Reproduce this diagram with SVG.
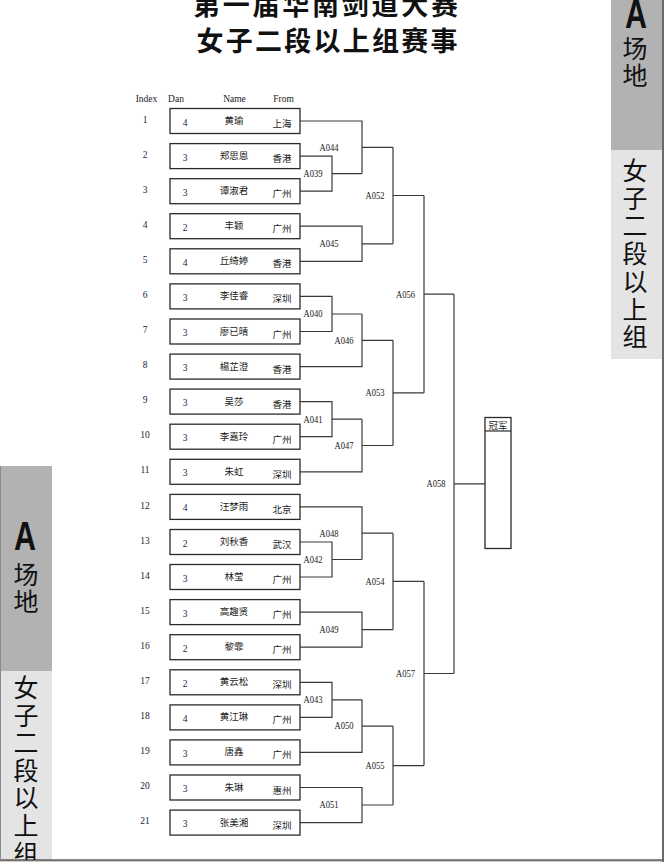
<svg xmlns="http://www.w3.org/2000/svg" width="664" height="862" viewBox="0 0 664 862">
<style>
.bg{fill:#ffffff}
.box{fill:#ffffff;stroke:#2a2a2a;stroke-width:1.3}
.con{fill:none;stroke:#3a3a3a;stroke-width:1.2}
.hdr{font-family:"Liberation Serif",serif;font-size:9.5px;fill:#1a1a1a;text-anchor:middle}
.idx{font-family:"Liberation Serif",serif;font-size:9.5px;fill:#1a1a3a;text-anchor:middle}
.dan{font-family:"Liberation Serif",serif;font-size:9.5px;fill:#1a1a4a;text-anchor:middle}
.nm{font-family:"Noto Sans CJK SC","Noto Sans",sans-serif;font-size:9.5px;fill:#1a1a1a;text-anchor:middle}
.fr{font-family:"Noto Sans CJK SC","Noto Sans",sans-serif;font-size:9.5px;fill:#1a1a1a;text-anchor:middle}
.ml{font-family:"Liberation Serif",serif;font-size:9.5px;fill:#1a1a1a;text-anchor:middle}
.ttl{font-family:"Noto Sans CJK SC","Noto Sans",sans-serif;font-size:27px;font-weight:700;fill:#111}
.band{font-family:"Noto Sans CJK SC","Noto Sans",sans-serif;font-size:25px;fill:#111;text-anchor:middle}
.bandA{font-family:"Liberation Sans","Noto Sans",sans-serif;font-size:40px;font-weight:700;fill:#111;text-anchor:middle}
.dark{fill:#b2b2b2}
.light{fill:#e4e4e4}
</style>
<rect class="bg" x="0" y="0" width="664" height="862"/>

<g id="title">
<text class="ttl" x="193" y="15" letter-spacing="2.75">第一届华南剑道大赛</text>
<text class="ttl" x="196.5" y="51" letter-spacing="2.25">女子二段以上组赛事</text>
</g>

<g id="band-right">
<rect class="dark" x="611" y="0" width="51" height="150"/>
<rect class="light" x="611" y="150" width="51" height="209"/>
<text class="bandA" x="636" y="28" textLength="22" lengthAdjust="spacingAndGlyphs">A</text>
<text class="band" x="635" y="58">场</text>
<text class="band" x="635" y="85">地</text>
<text class="band" x="635" y="180">女</text>
<text class="band" x="635" y="207.7">子</text>
<text class="band" x="635" y="235.4">二</text>
<text class="band" x="635" y="263.1">段</text>
<text class="band" x="635" y="290.8">以</text>
<text class="band" x="635" y="318.5">上</text>
<text class="band" x="635" y="346.2">组</text>
</g>

<g id="band-left">
<rect class="dark" x="0" y="466" width="52" height="205"/>
<rect class="light" x="0" y="671" width="52" height="189"/>
<text class="bandA" x="25" y="550" textLength="22" lengthAdjust="spacingAndGlyphs">A</text>
<text class="band" x="26" y="584">场</text>
<text class="band" x="26" y="611">地</text>
<text class="band" x="26" y="697">女</text>
<text class="band" x="26" y="724.6">子</text>
<text class="band" x="26" y="752.2">二</text>
<text class="band" x="26" y="779.8">段</text>
<text class="band" x="26" y="807.4">以</text>
<text class="band" x="26" y="835">上</text>
<text class="band" x="26" y="862.6">组</text>
</g>

<g id="page-frame">
<rect x="0" y="860" width="664" height="2" fill="#d2cbc3"/>
<line x1="0" y1="860" x2="664" y2="860" stroke="#1a1a1a" stroke-width="1.2"/>
<line x1="0.5" y1="466" x2="0.5" y2="860" stroke="#8a8a8a" stroke-width="1"/>
<line x1="663" y1="0" x2="663" y2="862" stroke="#6a6a6a" stroke-width="2"/>
</g>

<g id="header">
<text class="hdr" x="146.5" y="101.5">Index</text>
<text class="hdr" x="176" y="101.5">Dan</text>
<text class="hdr" x="234.5" y="101.5">Name</text>
<text class="hdr" x="283.5" y="101.5">From</text>
</g>

<g id="connectors">
<g id="m-A039"><path class="con" d="M300 156.1H332V191.2H300M332 173.6H362"/><text class="ml" x="313" y="177" textLength="19" lengthAdjust="spacingAndGlyphs">A039</text></g>
<g id="m-A044"><path class="con" d="M300 121H362V173.6M362 147.3H393"/><text class="ml" x="329" y="150.6" textLength="19" lengthAdjust="spacingAndGlyphs">A044</text></g>
<g id="m-A045"><path class="con" d="M300 226.2H362V261.3H300M362 243.8H393"/><text class="ml" x="329" y="247.1" textLength="19" lengthAdjust="spacingAndGlyphs">A045</text></g>
<g id="m-A052"><path class="con" d="M393 147.3V243.8M393 195.5H424"/><text class="ml" x="375" y="198.8" textLength="19" lengthAdjust="spacingAndGlyphs">A052</text></g>
<g id="m-A040"><path class="con" d="M300 296.4H332V331.5H300M332 314H362"/><text class="ml" x="313" y="317.3" textLength="19" lengthAdjust="spacingAndGlyphs">A040</text></g>
<g id="m-A046"><path class="con" d="M362 314V366.6H300M362 340.3H393"/><text class="ml" x="344" y="343.6" textLength="19" lengthAdjust="spacingAndGlyphs">A046</text></g>
<g id="m-A041"><path class="con" d="M300 401.6H332V436.7H300M332 419.2H362"/><text class="ml" x="313" y="422.5" textLength="19" lengthAdjust="spacingAndGlyphs">A041</text></g>
<g id="m-A047"><path class="con" d="M362 419.2V471.8H300M362 445.5H393"/><text class="ml" x="344" y="448.8" textLength="19" lengthAdjust="spacingAndGlyphs">A047</text></g>
<g id="m-A053"><path class="con" d="M393 340.3V445.5M393 392.9H424"/><text class="ml" x="375" y="396.2" textLength="19" lengthAdjust="spacingAndGlyphs">A053</text></g>
<g id="m-A056"><path class="con" d="M424 195.5V392.9M424 294.2H454"/><text class="ml" x="405.5" y="297.5" textLength="19" lengthAdjust="spacingAndGlyphs">A056</text></g>
<g id="m-A042"><path class="con" d="M300 542H332V577H300M332 559.5H362"/><text class="ml" x="313" y="562.8" textLength="19" lengthAdjust="spacingAndGlyphs">A042</text></g>
<g id="m-A048"><path class="con" d="M300 506.9H362V559.5M362 533.2H393"/><text class="ml" x="329" y="536.5" textLength="19" lengthAdjust="spacingAndGlyphs">A048</text></g>
<g id="m-A049"><path class="con" d="M300 612.1H362V647.2H300M362 629.7H393"/><text class="ml" x="329" y="633" textLength="19" lengthAdjust="spacingAndGlyphs">A049</text></g>
<g id="m-A054"><path class="con" d="M393 533.2V629.7M393 581.4H424"/><text class="ml" x="375" y="584.7" textLength="19" lengthAdjust="spacingAndGlyphs">A054</text></g>
<g id="m-A043"><path class="con" d="M300 682.3H332V717.4H300M332 699.8H362"/><text class="ml" x="313" y="703.1" textLength="19" lengthAdjust="spacingAndGlyphs">A043</text></g>
<g id="m-A050"><path class="con" d="M362 699.8V752.4H300M362 726.1H393"/><text class="ml" x="344" y="729.4" textLength="19" lengthAdjust="spacingAndGlyphs">A050</text></g>
<g id="m-A051"><path class="con" d="M300 787.5H362V822.6H300M362 805H393"/><text class="ml" x="329" y="808.3" textLength="19" lengthAdjust="spacingAndGlyphs">A051</text></g>
<g id="m-A055"><path class="con" d="M393 726.1V805M393 765.6H424"/><text class="ml" x="375" y="768.9" textLength="19" lengthAdjust="spacingAndGlyphs">A055</text></g>
<g id="m-A057"><path class="con" d="M424 581.4V765.6M424 673.5H454"/><text class="ml" x="405.5" y="676.8" textLength="19" lengthAdjust="spacingAndGlyphs">A057</text></g>
<g id="m-A058"><path class="con" d="M454 294.2V673.5M454 483.8H485"/><text class="ml" x="436" y="487.1" textLength="19" lengthAdjust="spacingAndGlyphs">A058</text></g>
</g>

<g id="champion">
<rect class="box" x="485" y="417.5" width="26" height="131"/>
<line x1="485" y1="431" x2="511" y2="431" stroke="#2a2a2a" stroke-width="1.2"/>
<text class="nm" x="498" y="428.5">冠军</text>
</g>

<g id="p1"><text class="idx" x="145" y="122.6">1</text><rect class="box" x="170" y="108.5" width="130" height="25"/><text class="dan" x="185" y="125.5">4</text><text class="nm" x="234" y="124">黄瑜</text><text class="fr" x="282" y="127">上海</text></g>
<g id="p2"><text class="idx" x="145" y="157.7">2</text><rect class="box" x="170" y="143.6" width="130" height="25"/><text class="dan" x="185" y="160.6">3</text><text class="nm" x="234" y="159.1">郑思恩</text><text class="fr" x="282" y="162.1">香港</text></g>
<g id="p3"><text class="idx" x="145" y="192.8">3</text><rect class="box" x="170" y="178.7" width="130" height="25"/><text class="dan" x="185" y="195.7">3</text><text class="nm" x="234" y="194.2">谭淑君</text><text class="fr" x="282" y="197.2">广州</text></g>
<g id="p4"><text class="idx" x="145" y="227.8">4</text><rect class="box" x="170" y="213.7" width="130" height="25"/><text class="dan" x="185" y="230.7">2</text><text class="nm" x="234" y="229.2">丰颖</text><text class="fr" x="282" y="232.2">广州</text></g>
<g id="p5"><text class="idx" x="145" y="262.9">5</text><rect class="box" x="170" y="248.8" width="130" height="25"/><text class="dan" x="185" y="265.8">4</text><text class="nm" x="234" y="264.3">丘绮婷</text><text class="fr" x="282" y="267.3">香港</text></g>
<g id="p6"><text class="idx" x="145" y="298">6</text><rect class="box" x="170" y="283.9" width="130" height="25"/><text class="dan" x="185" y="300.9">3</text><text class="nm" x="234" y="299.4">李佳睿</text><text class="fr" x="282" y="302.4">深圳</text></g>
<g id="p7"><text class="idx" x="145" y="333.1">7</text><rect class="box" x="170" y="319" width="130" height="25"/><text class="dan" x="185" y="336">3</text><text class="nm" x="234" y="334.5">廖已晴</text><text class="fr" x="282" y="337.5">广州</text></g>
<g id="p8"><text class="idx" x="145" y="368.2">8</text><rect class="box" x="170" y="354.1" width="130" height="25"/><text class="dan" x="185" y="371.1">3</text><text class="nm" x="234" y="369.6">楊芷澄</text><text class="fr" x="282" y="372.6">香港</text></g>
<g id="p9"><text class="idx" x="145" y="403.2">9</text><rect class="box" x="170" y="389.1" width="130" height="25"/><text class="dan" x="185" y="406.1">3</text><text class="nm" x="234" y="404.6">吴莎</text><text class="fr" x="282" y="407.6">香港</text></g>
<g id="p10"><text class="idx" x="145" y="438.3">10</text><rect class="box" x="170" y="424.2" width="130" height="25"/><text class="dan" x="185" y="441.2">3</text><text class="nm" x="234" y="439.7">李嘉玲</text><text class="fr" x="282" y="442.7">广州</text></g>
<g id="p11"><text class="idx" x="145" y="473.4">11</text><rect class="box" x="170" y="459.3" width="130" height="25"/><text class="dan" x="185" y="476.3">3</text><text class="nm" x="234" y="474.8">朱虹</text><text class="fr" x="282" y="477.8">深圳</text></g>
<g id="p12"><text class="idx" x="145" y="508.5">12</text><rect class="box" x="170" y="494.4" width="130" height="25"/><text class="dan" x="185" y="511.4">4</text><text class="nm" x="234" y="509.9">汪梦雨</text><text class="fr" x="282" y="512.9">北京</text></g>
<g id="p13"><text class="idx" x="145" y="543.6">13</text><rect class="box" x="170" y="529.5" width="130" height="25"/><text class="dan" x="185" y="546.5">2</text><text class="nm" x="234" y="545">刘秋香</text><text class="fr" x="282" y="548">武汉</text></g>
<g id="p14"><text class="idx" x="145" y="578.6">14</text><rect class="box" x="170" y="564.5" width="130" height="25"/><text class="dan" x="185" y="581.5">3</text><text class="nm" x="234" y="580">林莹</text><text class="fr" x="282" y="583">广州</text></g>
<g id="p15"><text class="idx" x="145" y="613.7">15</text><rect class="box" x="170" y="599.6" width="130" height="25"/><text class="dan" x="185" y="616.6">3</text><text class="nm" x="234" y="615.1">高趣贤</text><text class="fr" x="282" y="618.1">广州</text></g>
<g id="p16"><text class="idx" x="145" y="648.8">16</text><rect class="box" x="170" y="634.7" width="130" height="25"/><text class="dan" x="185" y="651.7">2</text><text class="nm" x="234" y="650.2">黎霏</text><text class="fr" x="282" y="653.2">广州</text></g>
<g id="p17"><text class="idx" x="145" y="683.9">17</text><rect class="box" x="170" y="669.8" width="130" height="25"/><text class="dan" x="185" y="686.8">2</text><text class="nm" x="234" y="685.3">黄云松</text><text class="fr" x="282" y="688.3">深圳</text></g>
<g id="p18"><text class="idx" x="145" y="719">18</text><rect class="box" x="170" y="704.9" width="130" height="25"/><text class="dan" x="185" y="721.9">4</text><text class="nm" x="234" y="720.4">黄江琳</text><text class="fr" x="282" y="723.4">广州</text></g>
<g id="p19"><text class="idx" x="145" y="754">19</text><rect class="box" x="170" y="739.9" width="130" height="25"/><text class="dan" x="185" y="756.9">3</text><text class="nm" x="234" y="755.4">唐鑫</text><text class="fr" x="282" y="758.4">广州</text></g>
<g id="p20"><text class="idx" x="145" y="789.1">20</text><rect class="box" x="170" y="775" width="130" height="25"/><text class="dan" x="185" y="792">3</text><text class="nm" x="234" y="790.5">朱琳</text><text class="fr" x="282" y="793.5">惠州</text></g>
<g id="p21"><text class="idx" x="145" y="824.2">21</text><rect class="box" x="170" y="810.1" width="130" height="25"/><text class="dan" x="185" y="827.1">3</text><text class="nm" x="234" y="825.6">张美湘</text><text class="fr" x="282" y="828.6">深圳</text></g>
</svg>
